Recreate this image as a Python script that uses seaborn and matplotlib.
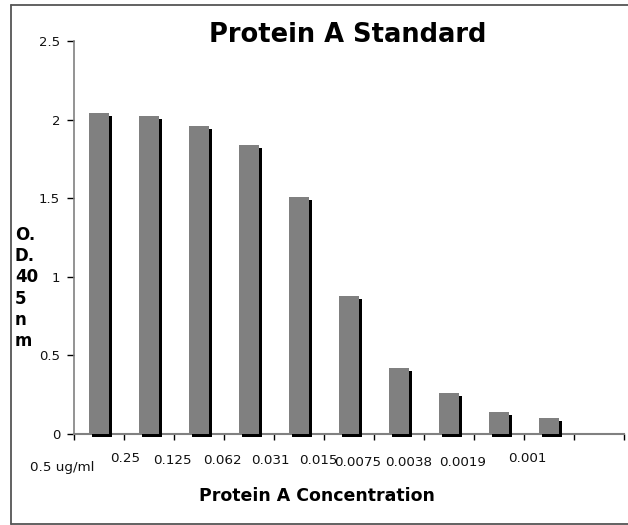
import matplotlib
matplotlib.use("Agg")
import matplotlib.pyplot as plt
import matplotlib.transforms as mtransforms
from matplotlib.lines import Line2D
import seaborn as sns
import pandas as pd

concentrations = ["0.5 ug/ml", "0.25", "0.125", "0.062", "0.031", "0.015",
                  "0.0075", "0.0038", "0.0019", "0.001"]
od_values = [2.04, 2.02, 1.96, 1.84, 1.51, 0.88, 0.42, 0.26, 0.14, 0.10]
y_ticks = [0, 0.5, 1, 1.5, 2, 2.5]
y_tick_labels = ["0", "0.5", "1", "1.5", "2", "2.5"]

df = pd.DataFrame({"conc": concentrations, "od": od_values})

sns.set_theme(style="white")
plt.rcParams["font.family"] = ["DejaVu Sans"]

W, H = 628, 525
fig = plt.figure(figsize=(W / 100, H / 100), dpi=100)
ax = fig.add_axes([74 / W, (H - 434) / H, (624 - 74) / W, (434 - 41) / H])
ax.set_xlim(-0.5, 10.5)
ax.set_ylim(0, 2.5)

# shadow bars (offset 3px right, 3px down)
sns.barplot(data=df, x="conc", y="od", order=concentrations, color="black",
            width=0.4, saturation=1, ax=ax, zorder=2)
shift = mtransforms.ScaledTranslation(3 / 100, -3 / 100, fig.dpi_scale_trans)
for p in list(ax.patches):
    p.set_transform(ax.transData + shift)
    p.set_edgecolor("none")
    p.set_clip_on(False)
n_shadow = len(ax.patches)
sns.barplot(data=df, x="conc", y="od", order=concentrations, color="#808080",
            width=0.4, saturation=1, ax=ax, zorder=3)
for p in ax.patches[n_shadow:]:
    p.set_edgecolor("none")

ax.set_xlim(-0.5, 10.5)
ax.set_ylim(0, 2.5)
ax.set_xlabel("")
ax.set_ylabel("")

ax.set_xticks([i - 0.5 for i in range(12)])
ax.set_xticklabels([])
ax.set_yticks(y_ticks)
ax.set_yticklabels(y_tick_labels, fontsize=9.5, color="#111111")

for s in ["top", "right"]:
    ax.spines[s].set_visible(False)
ax.spines["left"].set_color("#808080")
ax.spines["bottom"].set_color("#808080")
ax.spines["left"].set_linewidth(1.2)
ax.spines["bottom"].set_linewidth(1.5)
ax.spines["bottom"].set_zorder(1)
ax.tick_params(axis="y", direction="out", length=5, width=1, color="black", pad=5, left=True)
ax.tick_params(axis="x", direction="out", length=4, width=1, color="black", bottom=True)

# staggered category labels (Excel-style placement)
lab_dx = [-0.74, -0.48, -0.54, -0.54, -0.58, -0.62, -0.82, -0.80, -0.72, -0.44]
lab_dy = [33, 25, 27, 27, 27, 27, 28, 29, 29, 25]
tr = mtransforms.blended_transform_factory(ax.transData, fig.transFigure)
for i, lab in enumerate(concentrations):
    ax.text(i + lab_dx[i], (H - 434 - lab_dy[i]) / H, lab, transform=tr,
            ha="center", va="center", fontsize=9.7, color="#111111")

fig.text(348 / W, 1 - 35 / H, "Protein A Standard", ha="center", va="center",
         fontsize=18.5, fontweight="bold", color="black")
fig.text(317 / W, 1 - 496 / H, "Protein A Concentration", ha="center", va="center",
         fontsize=12.5, fontweight="bold", color="black")
fig.text(15 / W, 1 - 288 / H, "O.\nD.\n40\n5\nn\nm", ha="left", va="center",
         fontsize=12, fontweight="bold", color="black", linespacing=1.22)

# outer chart border (left, top, bottom; open on the right)
fx0, fy0, fy1 = 11 / W, 1 - 524 / H, 1 - 5 / H
for xs, ys in [([fx0, fx0], [fy0, fy1]), ([fx0, 1.0], [fy1, fy1]), ([fx0, 1.0], [fy0, fy0])]:
    fig.add_artist(Line2D(xs, ys, transform=fig.transFigure, color="#555555",
                          linewidth=1.3, zorder=0))

fig.savefig("out.png", dpi=100, facecolor="white")
